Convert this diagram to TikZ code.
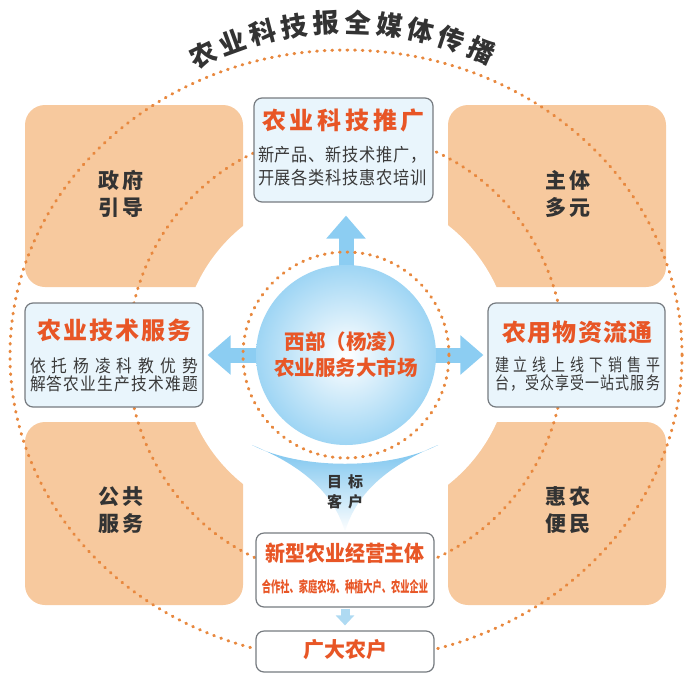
\documentclass[tikz,border=0pt]{standalone}
\usepackage{fontspec}
\usetikzlibrary{arrows.meta,calc}
\newfontfamily\cjk{Noto Sans CJK SC}
\newfontfamily\cjknarrow[FakeStretch=0.9]{Noto Sans CJK SC}
\newfontfamily\cjkslim[FakeStretch=0.8]{Noto Sans CJK SC}
\definecolor{peach}{RGB}{247,201,158}
\definecolor{dotorange}{RGB}{232,136,62}
\definecolor{titlered}{RGB}{232,86,38}
\definecolor{boxgray}{RGB}{118,123,128}
\definecolor{boxblue}{RGB}{233,245,252}
\definecolor{skyblue}{RGB}{140,205,242}
\definecolor{paleblue}{RGB}{175,218,242}
\definecolor{hubblue}{RGB}{158,213,244}
\definecolor{funnelblue}{RGB}{118,194,238}
\definecolor{inkgray}{RGB}{51,51,51}
\definecolor{bodygray}{RGB}{58,58,58}
% spread the characters of a line over a given width
\newcommand\spread[2]{\makebox[#1][s]{\spreadchars#2\relax}}
\def\spreadchars#1#2{#1\ifx\relax#2\else\hfil\expandafter\spreadchars\expandafter#2\fi}
\begin{document}
\begin{tikzpicture}[x=1pt,y=-1pt,
    corner/.style={fill=peach,rounded corners=20pt},
    dotring/.style={draw=dotorange,line width=3pt,line cap=round,dash pattern=on 0.8pt off 6.8pt},
    infobox/.style={draw=boxgray,line width=1.2pt,rounded corners=8pt,fill=boxblue,inner sep=0pt},
    boxtitle/.style={text=titlered,inner sep=0pt,font=\cjk\bfseries\fontsize{24}{28}\selectfont},
    boxbody/.style={text=bodygray,align=center,inner sep=0pt,font=\cjknarrow\fontsize{17.5}{18.5}\selectfont},
    cornerlabel/.style={text=inkgray,align=center,inner sep=0pt,font=\cjk\bfseries\fontsize{21}{27}\selectfont},
    bluearrow/.style={draw=skyblue,line width=15pt,-{Triangle[width=38pt,length=23pt]}},
    arcchar/.style={text=inkgray,inner sep=0pt,font=\cjk\bfseries\fontsize{26.5}{30}\selectfont}]
  \useasboundingbox (0,0) rectangle (692,680);
  \coordinate (ctr) at (346,355);
  % four corner fields, cut by the white disc
  \fill[corner] (25,105) rectangle (243,287);
  \fill[corner] (448,105) rectangle (666,287);
  \fill[corner] (25,422) rectangle (243,605);
  \fill[corner] (448,422) rectangle (666,605);
  \fill[white] (ctr) circle[radius=165];
  \draw[dotring] (ctr) ellipse[x radius=336,y radius=305];
  \draw[dotring] (ctr) ellipse[x radius=218,y radius=223];
  \node[cornerlabel] (gov) at (121,193.5) {\spread{45pt}{政府}\\\spread{45pt}{引导}};
  \node[cornerlabel] (actors) at (568,194) {\spread{45pt}{主体}\\\spread{45pt}{多元}};
  \node[cornerlabel] (public) at (121,510) {\spread{45pt}{公共}\\\spread{45pt}{服务}};
  \node[cornerlabel] (benefit) at (568,510) {\spread{45pt}{惠农}\\\spread{45pt}{便民}};
  % boxes
  \node[infobox,minimum width=179pt,minimum height=104pt] (promo) at (343.5,150) {};
  \node[boxtitle] (promo-title) at (343.5,120) {\spread{163pt}{农业科技推广}};
  \node[boxbody,font=\cjknarrow\fontsize{18}{23}\selectfont] (promo-body) at (342.5,166.5)
    {\spread{169pt}{新产品、新技术推广，}\\\spread{169pt}{开展各类科技惠农培训}};
  \node[infobox,minimum width=178pt,minimum height=104pt] (techsvc) at (114,355) {};
  \node[boxtitle] (techsvc-title) at (114.5,330) {\spread{155pt}{农业技术服务}};
  \node[boxbody] (techsvc-body) at (114,375)
    {\spread{168pt}{依托杨凌科教优势}\\\spread{168pt}{解答农业生产技术难题}};
  \node[infobox,minimum width=177pt,minimum height=104pt] (supply) at (576.5,355) {};
  \node[boxtitle] (supply-title) at (577.5,332) {\spread{151pt}{农用物资流通}};
  \node[boxbody,font=\cjkslim\fontsize{17.5}{18.5}\selectfont] (supply-body) at (577.5,374)
    {\spread{165pt}{建立线上线下销售平}\\\spread{165pt}{台，受众享受一站式服务}};
  % arrows out of the market
  \draw[bluearrow,shorten >=13pt] (ctr) -- (ctr |- promo.south);
  \draw[bluearrow,shorten >=4pt] (ctr) -- (ctr -| techsvc.east);
  \draw[bluearrow,shorten >=4pt] (ctr) -- (ctr -| supply.west);
  \node[circle,minimum size=180pt,inner color=white,outer color=hubblue,align=center,text=titlered,
    font=\cjk\bfseries\fontsize{20.5}{26}\selectfont] (hub) at (ctr) {西部（杨凌）\\农业服务大市场};
  \draw[dotring] (ctr) circle[radius=103];
  % funnel to the target clients
  \shade[top color=funnelblue,bottom color=white] (252,445) .. controls (300,470) and (390,470) .. (438,445)
    .. controls (415,455) and (360,478) .. (345,532) .. controls (330,478) and (275,455) .. (252,445) -- cycle;
  \node[cornerlabel,font=\cjk\bfseries\fontsize{15}{20}\selectfont] (target) at (345,492)
    {\spread{36pt}{目标}\\\spread{36pt}{客户}};
  \node[infobox,fill=white,minimum width=178pt,minimum height=74pt] (entity) at (345,570) {};
  \node[boxtitle,font=\cjk\bfseries\fontsize{21.5}{24}\selectfont] (entity-title) at (345,553)
    {\scalebox{0.93}[1]{新型农业经营主体}};
  \node[boxtitle,font=\cjk\bfseries\fontsize{15}{16}\selectfont] (entity-body) at (345,587)
    {\scalebox{0.615}[1]{合作社、家庭农场、种植大户、农业企业}};
  \node[infobox,fill=white,minimum width=178pt,minimum height=41pt] (farmers) at (345,651.5) {};
  \node[boxtitle,font=\cjk\bfseries\fontsize{21}{24}\selectfont] (farmers-title) at (345,650)
    {\spread{84pt}{广大农户}};
  \draw[draw=paleblue,line width=9pt,-{Triangle[width=18pt,length=10pt]},shorten >=5pt,shorten <=1pt]
    (entity.south) -- (farmers.north);
  % title along the outer ring
  \foreach \ch [count=\i] in {农,业,科,技,报,全,媒,体,传,播}{
    \pgfmathsetmacro\ang{115.5-5.5*(\i-1)}
    \node[arcchar,rotate=\ang-90] (head\i) at ($(ctr)+(\ang:333pt)$) {\ch};
  }
\end{tikzpicture}
\end{document}
